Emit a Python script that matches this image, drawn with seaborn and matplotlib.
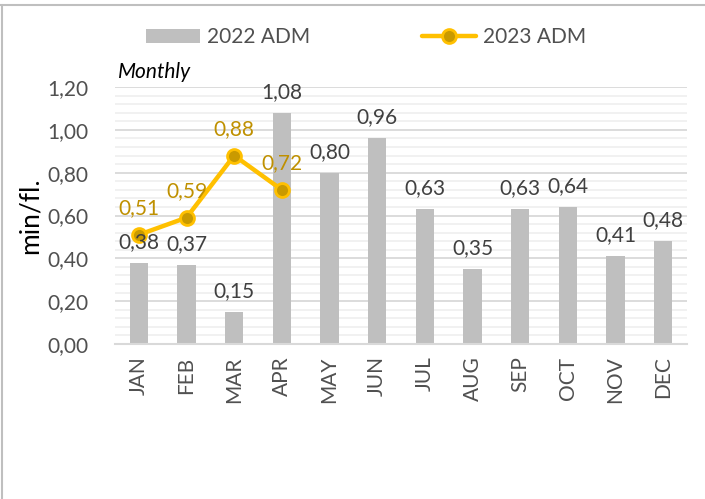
import numpy as np
import pandas as pd
import matplotlib
matplotlib.use("Agg")
import matplotlib.pyplot as plt
from matplotlib.lines import Line2D
from matplotlib.patches import Patch
from matplotlib.ticker import MultipleLocator, FuncFormatter
import seaborn as sns

months = ["JAN", "FEB", "MAR", "APR", "MAY", "JUN", "JUL", "AUG", "SEP", "OCT", "NOV", "DEC"]
adm_2022 = [0.38, 0.37, 0.15, 1.08, 0.80, 0.96, 0.63, 0.35, 0.63, 0.64, 0.41, 0.48]
adm_2023 = [0.51, 0.59, 0.88, 0.72]
series_names = ["2022 ADM", "2023 ADM"]
y_label = "min/fl."
subtitle = "Monthly"

sns.set_theme(style="white")
plt.rcParams["font.family"] = ["Lato", "DejaVu Sans"]

BAR = "#BFBFBF"
GOLD = "#FFC000"
GOLD_DARK = "#C99A00"
LBL_GOLD = "#BF9000"
TXT = "#505050"

fig = plt.figure(figsize=(7.05, 4.99), dpi=100)
ax = fig.add_axes([115 / 705, 1 - 344 / 499, 572 / 705, 257 / 499])

df = pd.DataFrame({"month": months, "val": adm_2022})
sns.barplot(data=df, x="month", y="val", color=BAR, saturation=1, width=0.39,
            ax=ax, zorder=2, edgecolor="none")

df23 = pd.DataFrame({"pos": np.arange(len(adm_2023)), "val": adm_2023})
sns.lineplot(data=df23, x="pos", y="val", ax=ax, color=GOLD, lw=3.2, marker="o",
             markersize=10, markerfacecolor=GOLD_DARK, markeredgecolor=GOLD,
             markeredgewidth=2, zorder=4)

ax.set_xlim(-0.5, 11.5)
ax.set_ylim(0, 1.2)
ax.yaxis.set_major_locator(MultipleLocator(0.2))
ax.yaxis.set_minor_locator(MultipleLocator(0.04))
ax.yaxis.set_major_formatter(FuncFormatter(lambda v, p: f"{v:.2f}".replace(".", ",")))
ax.grid(which="major", axis="y", color="#D9D9D9", lw=1.3, zorder=0)
ax.grid(which="minor", axis="y", color="#F0F0F0", lw=1.3, zorder=0)
ax.grid(axis="x", visible=False)
ax.set_axisbelow(True)
for s in ["top", "right", "left"]:
    ax.spines[s].set_visible(False)
ax.spines["bottom"].set_color("#D9D9D9")
ax.spines["bottom"].set_linewidth(1.5)
ax.tick_params(axis="both", which="both", length=0, colors=TXT, labelsize=15)
ax.tick_params(axis="x", rotation=90, pad=9)
ax.tick_params(axis="y", pad=18)
ax.set_xlabel("")
ax.set_ylabel(y_label, fontsize=19, color="black", labelpad=12)

for i, v in enumerate(adm_2022):
    ax.annotate(f"{v:.2f}".replace(".", ","), (i, v), xytext=(0, 15),
                textcoords="offset points", ha="center", va="center",
                fontsize=15, color="#404040", zorder=5)
for i, v in enumerate(adm_2023):
    ax.annotate(f"{v:.2f}".replace(".", ","), (i, v), xytext=(0, 19),
                textcoords="offset points", ha="center", va="center",
                fontsize=15, color=LBL_GOLD, zorder=5)

fig.text(118 / 705, 1 - 72 / 499, subtitle, fontsize=15, style="italic",
         color="black", ha="left", va="center")

handles = [Patch(facecolor=BAR, edgecolor="none"),
           Line2D([0], [0], color=GOLD, lw=3.2, marker="o", markersize=10,
                  markerfacecolor=GOLD_DARK, markeredgecolor=GOLD, markeredgewidth=2)]
fig.legend(handles, series_names, loc="center", bbox_to_anchor=(366 / 705, 1 - 37 / 499),
           ncol=2, frameon=False, fontsize=15, labelcolor=TXT, handlelength=2.6,
           handleheight=0.65, handletextpad=0.3, columnspacing=5.4)

fig.add_artist(Line2D([0, 1], [1 - 5 / 499, 1 - 5 / 499], color="#BFBFBF", lw=1.5,
                      transform=fig.transFigure))
fig.add_artist(Line2D([1.5 / 705, 1.5 / 705], [0, 1 - 5 / 499], color="#BFBFBF", lw=1.5,
                      transform=fig.transFigure))

# align tick labels / y label to reference pixel positions
fig.canvas.draw()
r = fig.canvas.get_renderer()
x1 = max(t.get_window_extent(r).x1 for t in ax.get_yticklabels() if t.get_text())
ax.tick_params(axis="y", pad=18 - (x1 - 92) * 72 / 100)
fig.canvas.draw()
yl = ax.yaxis.label.get_window_extent(r)
cx = (yl.x0 + yl.x1) / 2
ax.yaxis.labelpad = 12 + (cx - 30) * 72 / 100

fig.savefig("out.png", dpi=100)
